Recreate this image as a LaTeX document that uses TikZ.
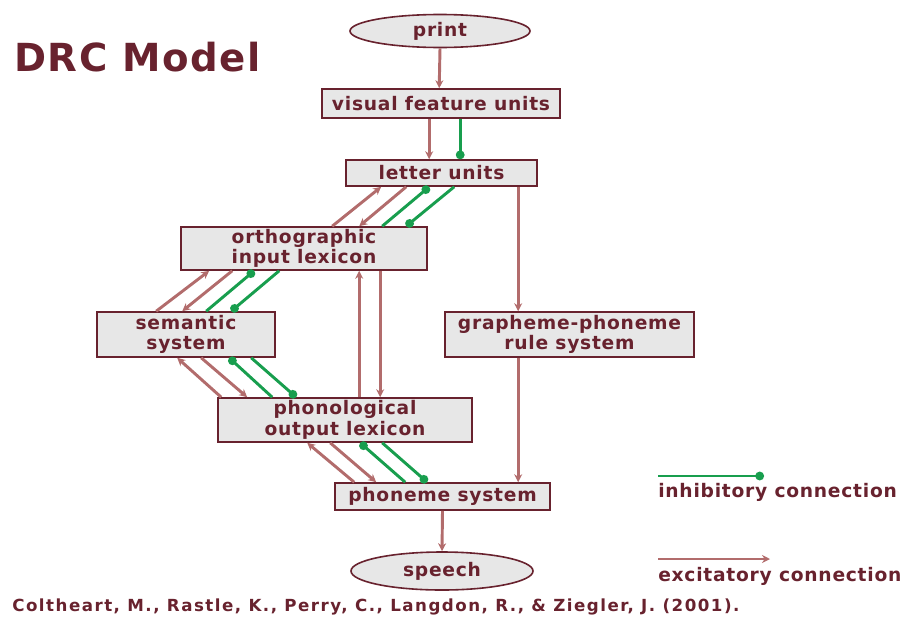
\documentclass[tikz,border=0pt]{standalone}
\usepackage{fontspec}
\setmainfont{DejaVu Sans}
\newfontfamily\drcfont[LetterSpace=4]{DejaVu Sans}
\newfontfamily\citefont[LetterSpace=9]{DejaVu Sans}
\usetikzlibrary{arrows.meta}
\usetikzlibrary{calc}
\usetikzlibrary{shapes.geometric}
\definecolor{drcred}{RGB}{104,34,46}
\definecolor{exccol}{RGB}{178,108,108}
\definecolor{inhcol}{RGB}{24,158,78}
\definecolor{boxfill}{RGB}{231,231,231}

\tikzset{
  unitbox/.style={draw=drcred, line width=1.2pt, fill=boxfill, text=drcred, inner sep=0pt,
    align=center, font=\drcfont\bfseries\fontsize{14}{15.5}\selectfont},
  iobox/.style={unitbox, ellipse},
  exc/.style={exccol, line width=2.2pt, -{Stealth[length=6pt,width=6pt]}},
  inh/.style={inhcol, line width=2.2pt, -{Circle[length=6.5pt,width=6.5pt]}},
  lbl/.style={text=drcred, inner sep=0pt, anchor=west, font=\drcfont\bfseries\fontsize{14}{16}\selectfont},
}

\begin{document}
\begin{tikzpicture}[x=0.75pt,y=-0.75pt]
\useasboundingbox (0,0) rectangle (912,621);

% title and reference
\node[lbl, font=\drcfont\bfseries\fontsize{29}{32}\selectfont] (title) at (14,57) {DRC Model};
\node[lbl, font=\citefont\bfseries\fontsize{12.5}{14}\selectfont] (cite) at (12,607)
  {Coltheart, M., Rastle, K., Perry, C., Langdon, R., \& Ziegler, J. (2001).};

% units
\node[iobox, minimum width=135pt, minimum height=24.75pt] (print) at (440,31) {print};
\node[unitbox, minimum width=178.5pt, minimum height=21.75pt] (visual) at (441,103.5) {visual feature units};
\node[unitbox, minimum width=143.25pt, minimum height=19.5pt] (letter) at (441.5,173) {letter units};
\node[unitbox, minimum width=184.5pt, minimum height=32.25pt] (orth) at (304,248.5) {orthographic\\input lexicon};
\node[unitbox, minimum width=133.5pt, minimum height=33.75pt] (sem) at (186,334.5) {semantic\\system};
\node[unitbox, minimum width=186.75pt, minimum height=33.75pt] (gpc) at (569.5,334.5) {grapheme-phoneme\\rule system};
\node[unitbox, minimum width=190.5pt, minimum height=33pt] (phon) at (345,420) {phonological\\output lexicon};
\node[unitbox, minimum width=161.25pt, minimum height=20.25pt] (phoneme) at (442.5,496.5) {phoneme system};
\node[iobox, minimum width=136.5pt, minimum height=28.5pt] (speech) at (442,571) {speech};

% vertical routes
\draw[exc] (print.south) -- ($(visual.north west)+(118,0)$);
\draw[exc] ($(visual.south west)+(108,0)$) -- ($(letter.north west)+(84,0)$);
\draw[inh] ($(visual.south west)+(139,0)$) -- ($(letter.north west)+(115,0)$);
\draw[exc] ($(letter.south west)+(173,0)$) -- ($(gpc.north west)+(74,0)$);
\draw[exc] ($(gpc.south west)+(74,0)$) -- ($(phoneme.north west)+(184,0)$);
\draw[exc] ($(phon.north west)+(142,0)$) -- ($(orth.south west)+(179,0)$);
\draw[exc] ($(orth.south west)+(200,0)$) -- ($(phon.north west)+(163,0)$);
\draw[exc] (phoneme.south) -- (speech.north);

% letter units <-> orthographic input lexicon
\draw[exc] ($(orth.north west)+(152,0)$) -- ($(letter.south west)+(36,0)$);
\draw[exc] ($(letter.south west)+(61,0)$) -- ($(orth.north west)+(179,0)$);
\draw[inh] ($(orth.north west)+(202,0)$) -- ($(letter.south west)+(84,0)$);
\draw[inh] ($(letter.south west)+(109,0)$) -- ($(orth.north west)+(226,0)$);

% orthographic input lexicon <-> semantic system
\draw[exc] ($(sem.north west)+(60,0)$) -- ($(orth.south west)+(29,0)$);
\draw[exc] ($(orth.south west)+(52,0)$) -- ($(sem.north west)+(86,0)$);
\draw[inh] ($(sem.north west)+(110,0)$) -- ($(orth.south west)+(74,0)$);
\draw[inh] ($(orth.south west)+(99,0)$) -- ($(sem.north west)+(135,0)$);

% semantic system <-> phonological output lexicon
\draw[exc] ($(phon.north west)+(4,0)$) -- ($(sem.south west)+(81,0)$);
\draw[exc] ($(sem.south west)+(105,0)$) -- ($(phon.north west)+(30,0)$);
\draw[inh] ($(phon.north west)+(55,0)$) -- ($(sem.south west)+(133,0)$);
\draw[inh] ($(sem.south west)+(155,0)$) -- ($(phon.north west)+(79,0)$);

% phonological output lexicon <-> phoneme system
\draw[exc] ($(phoneme.north west)+(20,0)$) -- ($(phon.south west)+(90,0)$);
\draw[exc] ($(phon.south west)+(113,0)$) -- ($(phoneme.north west)+(42,0)$);
\draw[inh] ($(phoneme.north west)+(71,0)$) -- ($(phon.south west)+(143,0)$);
\draw[inh] ($(phon.south west)+(165,0)$) -- ($(phoneme.north west)+(93,0)$);

% legend
\node[lbl] (inhlbl) at (658,492) {inhibitory connection};
\node[lbl] (exclbl) at (658,576) {excitatory connection};
\coordinate (inhA) at (658,476);
\coordinate (inhB) at (764,476);
\coordinate (excA) at (658,559);
\coordinate (excB) at (770,559);
\draw[inh] (inhA) -- (inhB);
\draw[exc] (excA) -- (excB);
\end{tikzpicture}
\end{document}
